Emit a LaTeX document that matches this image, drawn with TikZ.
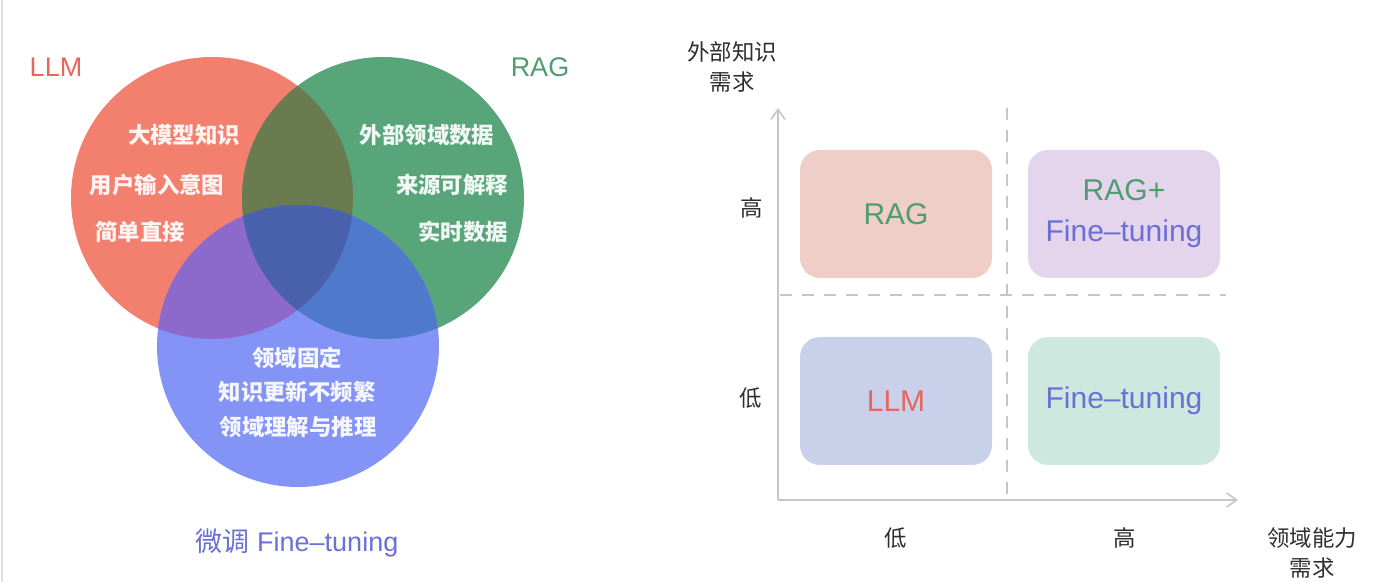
\documentclass[tikz,border=0pt]{standalone}
\usepackage{fontspec}
\usepackage{tikz}
\usepackage{color}
\usetikzlibrary{arrows.meta}
\setmainfont{Liberation Sans}
\newfontfamily\cjk{Noto Sans CJK SC}

\definecolor{llmred}{HTML}{F3806F}
\definecolor{raggreen}{HTML}{58A57A}
\definecolor{ftblue}{HTML}{8393F6}
\definecolor{rgmix}{HTML}{6B7B50}
\definecolor{rbmix}{HTML}{8C69CA}
\definecolor{gbmix}{HTML}{4F7ACB}
\definecolor{allmix}{HTML}{4A62AD}
\definecolor{labred}{HTML}{E8675D}
\definecolor{labgreen}{HTML}{4F9C6F}
\definecolor{labblue}{HTML}{6A70D6}
\definecolor{axisgray}{HTML}{C6C6C6}
\definecolor{ragbg}{HTML}{F0CEC8}
\definecolor{bothbg}{HTML}{E4D4EC}
\definecolor{llmbg}{HTML}{C9D0EA}
\definecolor{ftbg}{HTML}{CDE9DF}

\begin{document}
\begin{tikzpicture}[x=0.5pt,y=-0.5pt,
  intext/.style={text=white,text opacity=0.92,font=\fontsize{11.2}{13}\cjk\bfseries},
  setname/.style={font=\fontsize{13.5}{16}\selectfont},
  axtext/.style={text=black!82,font=\fontsize{11.2}{15}\cjk,align=center},
  quad/.style={rounded corners=10pt,minimum width=96pt,minimum height=64pt,
    align=center,font=\fontsize{15}{20.5}\selectfont},
  >={Straight Barb[length=5pt,width=7pt]}]
\useasboundingbox (0,0) rectangle (1398,582);
\draw[black!12,line width=0.8pt] (2,0) -- (2,582);

% Venn diagram
\coordinate (cllm) at (212,198);
\coordinate (crag) at (383,198);
\coordinate (cft) at (298,346);
\fill[llmred] (cllm) circle[radius=70.5pt];
\fill[raggreen] (crag) circle[radius=70.5pt];
\fill[ftblue] (cft) circle[radius=70.5pt];
\begin{scope}
\clip (cllm) circle[radius=70.5pt];
\fill[rgmix] (crag) circle[radius=70.5pt];
\fill[rbmix] (cft) circle[radius=70.5pt];
\clip (crag) circle[radius=70.5pt];
\fill[allmix] (cft) circle[radius=70.5pt];
\end{scope}
\begin{scope}
\clip (crag) circle[radius=70.5pt];
\clip (cft) circle[radius=70.5pt];
\fill[gbmix] (cllm) ++(-200,-200) rectangle ++(600,600);
\clip (cllm) circle[radius=70.5pt];
\fill[allmix] (cllm) ++(-200,-200) rectangle ++(600,600);
\end{scope}

\node[setname,text=labred] (llmname) at (56,67) {LLM};
\node[setname,text=labgreen] (ragname) at (540,67) {RAG};
\node[setname,text=labblue] (ftname) at (297,543) {{\cjk 微调} Fine–tuning};

\node[intext] (llm1) at (184,135) {大模型知识};
\node[intext] (llm2) at (157,185) {用户输入意图};
\node[intext] (llm3) at (140,232) {简单直接};
\node[intext] (rag1) at (427,135) {外部领域数据};
\node[intext] (rag2) at (452,185) {来源可解释};
\node[intext] (rag3) at (463,232) {实时数据};
\node[intext] (ft1) at (297,358) {领域固定};
\node[intext] (ft2) at (297,392) {知识更新不频繁};
\node[intext] (ft3) at (298,427) {领域理解与推理};

% Quadrant chart
\coordinate (orig) at (778,500);
\coordinate (ytip) at (778,108);
\coordinate (xtip) at (1238,500);
\coordinate (vtop) at (1007,108);
\coordinate (vbot) at (1007,497);
\coordinate (hleft) at (780,295);
\coordinate (hright) at (1226,295);
\draw[axisgray,line width=0.8pt,dash pattern=on 6pt off 5pt] (vtop) -- (vbot);
\draw[axisgray,line width=0.8pt,dash pattern=on 6pt off 5pt] (hleft) -- (hright);
\draw[axisgray,line width=0.8pt,->] (orig) -- (ytip);
\draw[axisgray,line width=0.8pt,->] (orig) -- (xtip);

\node[quad,fill=ragbg,text=labgreen] (ragbox) at (896,214) {RAG};
\node[quad,fill=bothbg] (bothbox) at (1124,214) {\textcolor{labgreen}{RAG+}\\\textcolor{labblue}{Fine–tuning}};
\node[quad,fill=llmbg,text=labred] (llmbox) at (896,401) {LLM};
\node[quad,fill=ftbg,text=labblue] (ftbox) at (1124,401) {Fine–tuning};

\node[axtext] (ylabel) at (732,67) {外部知识\\需求};
\node[axtext] (yhigh) at (752,208) {高};
\node[axtext] (ylow) at (751,398) {低};
\node[axtext] (xlow) at (896,538) {低};
\node[axtext] (xhigh) at (1125,538) {高};
\node[axtext] (xlabel) at (1312,553) {领域能力\\需求};
\end{tikzpicture}
\end{document}
